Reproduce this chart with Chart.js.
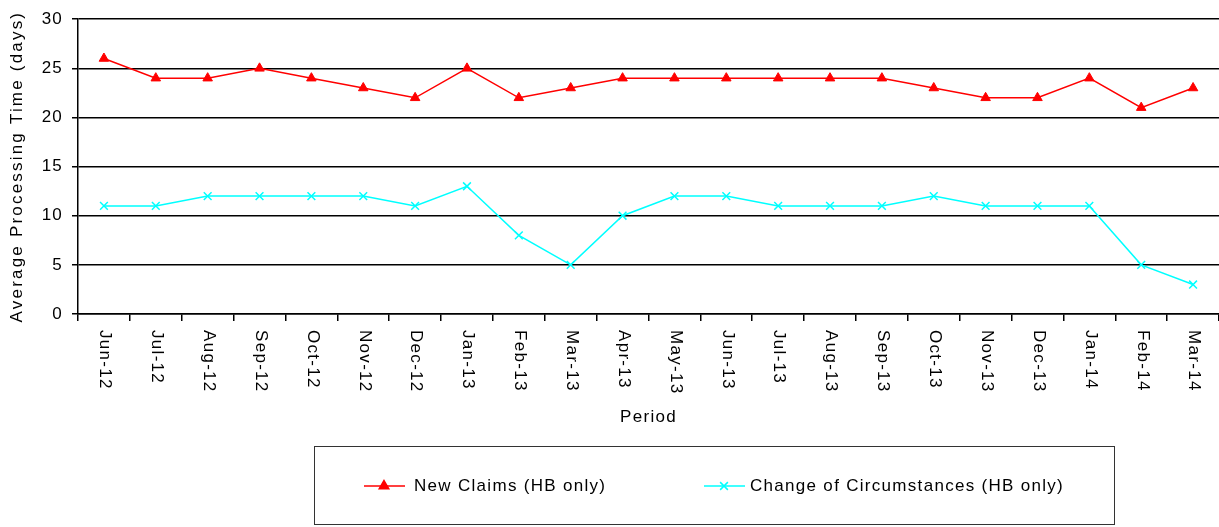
<!DOCTYPE html>
<html>
<head>
<meta charset="utf-8">
<script src="https://cdn.jsdelivr.net/npm/chart.js@4/dist/chart.umd.min.js"></script>
<style>
    html, body { margin: 0; padding: 0; background: #fff; }
    #wrap { width: 1219px; height: 527px; position: relative; }
</style>
</head>
<body>
<div id="wrap"><canvas id="myChart"></canvas></div>
<script>
    const periods = ['Jun-12', 'Jul-12', 'Aug-12', 'Sep-12', 'Oct-12', 'Nov-12', 'Dec-12', 'Jan-13', 'Feb-13', 'Mar-13', 'Apr-13',
        'May-13', 'Jun-13', 'Jul-13', 'Aug-13', 'Sep-13', 'Oct-13', 'Nov-13', 'Dec-13', 'Jan-14', 'Feb-14', 'Mar-14'];
    const newClaims = [26, 24, 24, 25, 24, 23, 22, 25, 22, 23, 24, 24, 24, 24, 24, 24, 23, 22, 22, 24, 21, 23];
    const changeOfCircs = [11, 11, 12, 12, 12, 12, 11, 13, 8, 5, 10, 12, 12, 11, 11, 11, 12, 11, 11, 11, 5, 3];
    const yTicks = [0, 5, 10, 15, 20, 25, 30];
    const seriesNames = ['New Claims (HB only)', 'Change of Circumstances (HB only)'];
    const yTitle = 'Average Processing Time (days)';
    const xTitle = 'Period';

    const FONT = '"Liberation Sans", Arial, sans-serif';

    // labels, titles and legend drawn by hand (clockwise text, boxed legend)
    const textPlugin = {
        id: 'textPlugin',
        beforeDraw(chart) {
            chart.ctx.letterSpacing = '1.2px';
        },
        afterDraw(chart) {
            const ctx = chart.ctx;
            const x = chart.scales.x;
            const area = chart.chartArea;
            ctx.save();
            ctx.fillStyle = '#000';
            ctx.font = '17px ' + FONT;
            ctx.letterSpacing = '1.3px';

            // x tick labels, rotated clockwise
            ctx.textAlign = 'left';
            ctx.textBaseline = 'middle';
            periods.forEach((p, i) => {
                ctx.save();
                ctx.translate(x.getPixelForValue(i) + 1, area.bottom + 16);
                ctx.rotate(Math.PI / 2);
                ctx.fillText(p, 0, 0);
                ctx.restore();
            });

            // x title
            ctx.textAlign = 'center';
            ctx.fillText(xTitle, (area.left + area.right) / 2, 417);

            // y title
            ctx.save();
            ctx.letterSpacing = '2.2px';
            ctx.translate(17, (area.top + area.bottom) / 2);
            ctx.rotate(-Math.PI / 2);
            ctx.fillText(yTitle, 0, 0);
            ctx.restore();

            // legend box
            ctx.strokeStyle = '#333';
            ctx.lineWidth = 1;
            ctx.strokeRect(314.5, 446.5, 800, 78);

            const items = [
                { lx: 364, tx: 414 },
                { lx: 704, tx: 750 }
            ];
            const ly = 486;
            chart.data.datasets.forEach((ds, i) => {
                const it = items[i];
                ctx.strokeStyle = ds.borderColor;
                ctx.fillStyle = ds.backgroundColor;
                ctx.lineWidth = 1.5;
                ctx.beginPath();
                ctx.moveTo(it.lx, ly);
                ctx.lineTo(it.lx + 41, ly);
                ctx.stroke();
                Chart.helpers.drawPoint(ctx, {
                    pointStyle: ds.pointStyle,
                    radius: ds.pointRadius,
                    borderWidth: ds.pointBorderWidth
                }, it.lx + 20, ly);
                ctx.fillStyle = '#000';
                ctx.textAlign = 'left';
                ctx.fillText(ds.label, it.tx, ly);
            });
            ctx.restore();
        }
    };

    const ctx = document.getElementById('myChart').getContext('2d');
    new Chart(ctx, {
        type: 'line',
        data: {
            labels: periods,
            datasets: [{
                label: seriesNames[0],
                data: newClaims,
                borderColor: '#ff0000',
                backgroundColor: '#ff0000',
                borderWidth: 1.5,
                pointStyle: 'triangle',
                pointRadius: 5.5,
                pointBorderWidth: 1,
                fill: false,
                tension: 0
            }, {
                label: seriesNames[1],
                data: changeOfCircs,
                borderColor: '#00ffff',
                backgroundColor: '#00ffff',
                borderWidth: 1.5,
                pointStyle: 'crossRot',
                pointRadius: 5.5,
                pointBorderWidth: 1.5,
                fill: false,
                tension: 0
            }]
        },
        options: {
            responsive: true,
            maintainAspectRatio: false,
            animation: false,
            layout: { autoPadding: false, padding: { top: 16, right: 0, left: 0, bottom: 0 } },
            plugins: {
                legend: { display: false },
                tooltip: { enabled: false }
            },
            scales: {
                x: {
                    offset: true,
                    grid: {
                        offset: true,
                        drawOnChartArea: false,
                        drawTicks: true,
                        tickLength: 7,
                        color: '#000',
                        lineWidth: 1.5
                    },
                    border: { display: true, color: '#000', width: 1.5 },
                    ticks: { display: false, autoSkip: false },
                    afterFit(scale) { scale.height = 213; }
                },
                y: {
                    min: 0,
                    max: 30,
                    afterBuildTicks(scale) { scale.ticks = yTicks.map(v => ({ value: v })); },
                    grid: { color: '#000', lineWidth: 1.5, tickLength: 6 },
                    border: { display: true, color: '#000', width: 1.5 },
                    ticks: {
                        color: '#000',
                        padding: 9,
                        font: { size: 17, family: FONT }
                    },
                    afterFit(scale) { scale.width = 78; }
                }
            }
        },
        plugins: [textPlugin]
    });
</script>
</body>
</html>
